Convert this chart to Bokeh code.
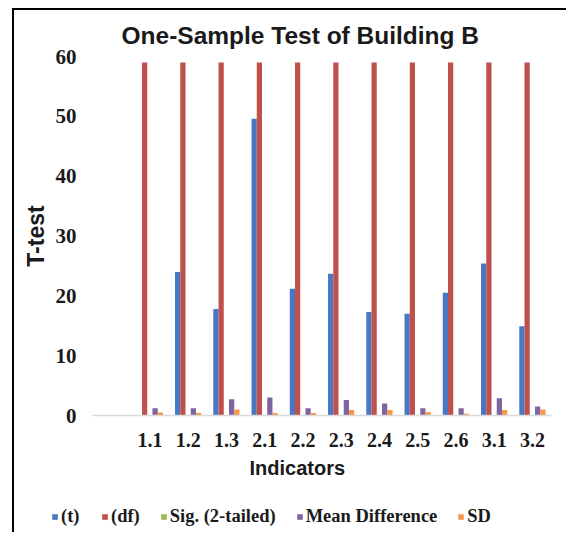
from bokeh.plotting import figure
from bokeh.models import (ColumnDataSource, FactorRange, FixedTicker, Legend,
                          LegendItem, Range1d, Title)
from bokeh.transform import dodge
from bokeh.layouts import column
from bokeh.embed import file_html
from bokeh.resources import INLINE

# ---- data ----
categories = ["1.1", "1.2", "1.3", "2.1", "2.2", "2.3", "2.4", "2.5", "2.6", "3.1", "3.2"]
t_values = [0.0, 24.0, 17.8, 49.6, 21.2, 23.7, 17.3, 17.0, 20.5, 25.4, 14.9]
df_values = [59, 59, 59, 59, 59, 59, 59, 59, 59, 59, 59]
sig_values = [0.0, 0.0, 0.0, 0.0, 0.0, 0.0, 0.0, 0.0, 0.0, 0.0, 0.0]
mean_diff = [1.2, 1.2, 2.7, 3.0, 1.2, 2.6, 2.0, 1.2, 1.2, 2.9, 1.5]
sd_values = [0.5, 0.4, 1.0, 0.4, 0.4, 0.9, 0.9, 0.6, 0.3, 0.9, 1.0]
series_names = ["(t)", "(df)", "Sig. (2-tailed)", "Mean Difference", "SD"]
series_colors = ["#4A77C4", "#C0504D", "#9BBB59", "#8064A2", "#F79646"]
y_ticks = [0, 10, 20, 30, 40, 50, 60]

source = ColumnDataSource(dict(cat=categories, t=t_values, df=df_values,
                               sig=sig_values, md=mean_diff, sd=sd_values))
fields = ["t", "df", "sig", "md", "sd"]
factors = [" "] + categories

W, H = 552, 478
p = figure(x_range=FactorRange(*factors, range_padding=0),
           y_range=Range1d(0, 60), width=W, height=H,
           output_backend="svg", toolbar_location=None,
           min_border_left=78, min_border_right=15,
           min_border_top=46, min_border_bottom=73)

p.title.text = "One-Sample Test of Building B"
p.title.text_font = "Liberation Sans"
p.title.text_font_style = "bold"
p.title.text_font_size = "24.5px"
p.title.align = "left"
p.title.offset = 29
p.title.standoff = 15
p.title.text_color = "#1a1a1a"

bw = 0.137
for i, (f, col) in enumerate(zip(fields, series_colors)):
    p.vbar(x=dodge("cat", (i - 2) * bw, range=p.x_range), top=f, width=bw,
           source=source, fill_color=col, line_color=None)

p.xgrid.grid_line_color = None
p.ygrid.grid_line_color = None
p.outline_line_color = None
p.background_fill_color = "white"
p.border_fill_color = "white"

# y axis
ya = p.yaxis[0]
ya.ticker = FixedTicker(ticks=y_ticks)
ya.axis_line_color = None
ya.major_tick_line_color = None
ya.minor_tick_line_color = None
ya.major_label_text_font = "Liberation Serif"
ya.major_label_text_font_style = "bold"
ya.major_label_text_font_size = "21px"
ya.major_label_text_color = "#1a1a1a"
ya.major_label_standoff = 10
ya.axis_label = "T-test"
ya.axis_label_text_font = "Liberation Sans"
ya.axis_label_text_font_style = "bold"
ya.axis_label_text_font_size = "23px"
ya.axis_label_text_color = "#1a1a1a"
ya.axis_label_standoff = 4

# x axis
xa = p.xaxis[0]
xa.axis_line_color = "#D9D9D9"
xa.axis_line_width = 1.5
xa.major_tick_line_color = None
xa.minor_tick_line_color = None
xa.major_label_text_font = "Liberation Serif"
xa.major_label_text_font_style = "bold"
xa.major_label_text_font_size = "20px"
xa.major_label_text_color = "#1a1a1a"
xa.major_label_standoff = 7

xt = Title(text="Indicators", align="left", offset=157, standoff=3,
           text_font="Liberation Sans", text_font_style="bold",
           text_font_size="20px", text_color="#1a1a1a")
p.add_layout(xt, "below")

# legend row (separate strip below the chart)
lg = figure(width=W, height=44, output_backend="svg", toolbar_location=None,
            x_range=FactorRange(*factors, range_padding=0), y_range=Range1d(0, 60),
            min_border=0, min_border_left=0, min_border_right=0,
            min_border_top=0, min_border_bottom=0)
lg.axis.visible = False
lg.grid.visible = False
lg.outline_line_color = None
for fig in (p, lg):
    try:
        fig.frame_align = False
    except Exception:
        pass

items = []
for i, (f, name, col) in enumerate(zip(fields, series_names, series_colors)):
    r = lg.vbar(x=dodge("cat", (i - 2) * bw, range=lg.x_range), top=f, width=bw,
                source=source, fill_color=col, line_color=None, visible=False)
    items.append(LegendItem(label=name, renderers=[r]))
legend = Legend(items=items, orientation="horizontal", location=(37, 5),
                label_text_font="Liberation Serif", label_text_font_style="bold",
                label_text_font_size="18.5px", label_text_color="#1a1a1a",
                glyph_width=7, glyph_height=7, label_standoff=3, spacing=20,
                padding=0, margin=0, border_line_color=None,
                background_fill_alpha=0, inactive_fill_alpha=0)
lg.add_layout(legend, "center")

layout = column(p, lg, margin=(8, 0, 0, 12), spacing=0,
                styles={"border-left": "2px solid black", "border-top": "2px solid black"})

open("out.html", "w").write(file_html(layout, INLINE))
